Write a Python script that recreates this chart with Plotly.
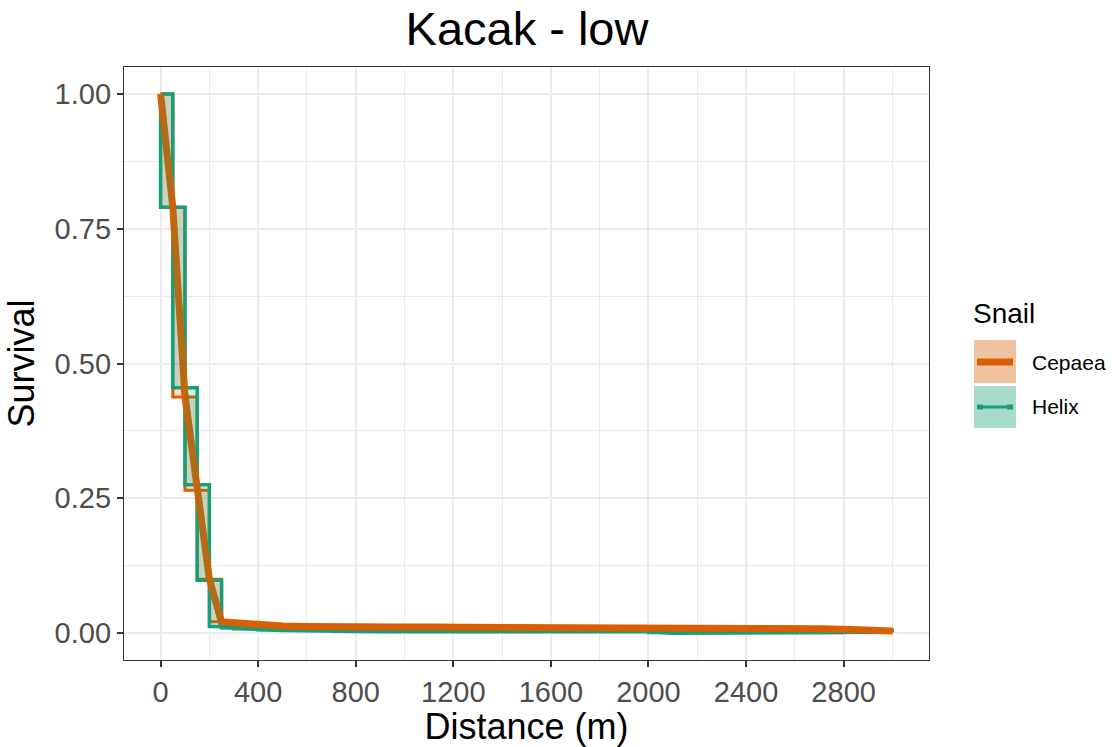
import plotly.graph_objects as go

# ---------------- data ----------------
chart_title = "Kacak - low"
distance = [0, 50, 100, 150, 200, 250, 300, 400, 500, 600, 700, 800, 900, 1000,
            1100, 1200, 1300, 1400, 1500, 1600, 1700, 1800, 1900, 2000, 2100,
            2200, 2300, 2400, 2500, 2600, 2700, 2800, 2900, 3000]
cepaea = [1.000, 0.790, 0.438, 0.265, 0.100, 0.021, 0.019, 0.015, 0.013, 0.012,
          0.011, 0.011, 0.011, 0.011, 0.011, 0.011, 0.011, 0.011, 0.011, 0.011,
          0.011, 0.011, 0.011, 0.011, 0.008, 0.008, 0.008, 0.008, 0.008, 0.008,
          0.008, 0.007, 0.006, 0.004]
helix = [1.000, 0.790, 0.455, 0.275, 0.098, 0.012, 0.010, 0.008, 0.006, 0.005,
         0.004, 0.004, 0.004, 0.004, 0.004, 0.004, 0.004, 0.004, 0.004, 0.004,
         0.004, 0.004, 0.004, 0.004, 0.001, 0.001, 0.001, 0.001, 0.001, 0.001,
         0.001, 0.002, 0.003, 0.003]
species = ["Cepaea", "Helix"]
x_ticks = [0, 400, 800, 1200, 1600, 2000, 2400, 2800]
y_ticks = [0.0, 0.25, 0.5, 0.75, 1.0]

ORANGE = "#d95f02"
GREEN = "#1b9e77"
FONT = "Liberation Sans, Arial, sans-serif"

W, H = 1112, 747
L, R, T, B = 124, 183, 67, 87
PW, PH = W - L - R, H - T - B


def px_x(px):
    return (px - L) / PW


def px_y(py):
    return (H - B - py) / PH


def band(d, s):
    xs, ys = [], []
    for i in range(len(d) - 1):
        x0, x1 = d[i], d[i + 1]
        lo, hi = s[i + 1], s[i]
        xs += [x0, x1, x1, x0, x0, None]
        ys += [hi, hi, lo, lo, hi, None]
    return xs, ys


fig = go.Figure()

cx, cy = band(distance, cepaea)
hx, hy = band(distance, helix)

# Cepaea interval band
fig.add_trace(go.Scatter(x=cx, y=cy, mode="lines", fill="toself",
                         fillcolor="rgba(217,95,2,0.2)",
                         line=dict(color=ORANGE, width=3),
                         showlegend=False, hoverinfo="skip", name="Cepaea"))
# Helix interval band outline
fig.add_trace(go.Scatter(x=hx, y=hy, mode="lines",
                         line=dict(color=GREEN, width=3.5),
                         showlegend=False, hoverinfo="skip", name="Helix"))
# Helix survival line
fig.add_trace(go.Scatter(x=distance, y=helix, mode="lines",
                         line=dict(color=GREEN, width=5),
                         showlegend=False, name="Helix"))
# Cepaea survival line
fig.add_trace(go.Scatter(x=distance, y=cepaea, mode="lines",
                         line=dict(color=ORANGE, width=7),
                         showlegend=False, name="Cepaea"))
# Helix band fill (on top)
fig.add_trace(go.Scatter(x=hx, y=hy, mode="lines", fill="toself",
                         fillcolor="rgba(27,158,119,0.2)",
                         line=dict(width=0, color="rgba(0,0,0,0)"),
                         showlegend=False, hoverinfo="skip", name="Helix"))

# ---------------- manual legend ----------------
shapes = []
annotations = []
key_boxes = [(340, 383, "rgba(217,95,2,0.38)"), (386, 428, "rgba(27,158,119,0.38)")]
for (y0, y1, col) in key_boxes:
    shapes.append(dict(type="rect", xref="paper", yref="paper",
                       x0=px_x(974), x1=px_x(1016), y0=px_y(y1), y1=px_y(y0),
                       fillcolor=col, line=dict(width=0), layer="above"))
shapes.append(dict(type="line", xref="paper", yref="paper",
                   x0=px_x(977), x1=px_x(1013), y0=px_y(362), y1=px_y(362),
                   line=dict(color=ORANGE, width=7), layer="above"))
shapes.append(dict(type="line", xref="paper", yref="paper",
                   x0=px_x(977), x1=px_x(1013), y0=px_y(407), y1=px_y(407),
                   line=dict(color=GREEN, width=3), layer="above"))
for (a, b) in [(977, 983), (1007, 1013)]:
    shapes.append(dict(type="rect", xref="paper", yref="paper",
                       x0=px_x(a), x1=px_x(b), y0=px_y(409.5), y1=px_y(404.5),
                       fillcolor=GREEN, line=dict(width=0), layer="above"))

annotations.append(dict(text="Snail", xref="paper", yref="paper",
                        x=px_x(971), y=px_y(313), xanchor="left", yanchor="middle",
                        showarrow=False, font=dict(family=FONT, size=28, color="black")))
for name, yc in zip(species, [362, 407]):
    annotations.append(dict(text=name, xref="paper", yref="paper",
                            x=px_x(1030), y=px_y(yc), xanchor="left", yanchor="middle",
                            showarrow=False, font=dict(family=FONT, size=21, color="black")))

fig.update_layout(
    width=W, height=H,
    margin=dict(l=L, r=R, t=T, b=B, autoexpand=False),
    paper_bgcolor="white", plot_bgcolor="white",
    font=dict(family=FONT, color="black"),
    title=dict(text=chart_title, x=px_x(527), xref="paper", xanchor="center",
               y=1 - 29 / H, yref="container", yanchor="middle",
               font=dict(family=FONT, size=47, color="black")),
    shapes=shapes, annotations=annotations,
    showlegend=False,
)

axis_common = dict(
    automargin=False,
    showline=True, linecolor="#333333", linewidth=1.3, mirror=True,
    ticks="outside", ticklen=6, tickwidth=1.5, tickcolor="#333333",
    showgrid=True, gridcolor="#ebebeb", gridwidth=2,
    zeroline=False,
    tickfont=dict(family=FONT, size=29, color="#4d4d4d"),
)

fig.update_xaxes(
    range=[-150, 3150], tickvals=x_ticks,
    minor=dict(tickvals=[200, 600, 1000, 1400, 1800, 2200, 2600, 3000],
               showgrid=True, gridcolor="#ebebeb", gridwidth=1.2),
    title=dict(text="Distance (m)", standoff=2,
               font=dict(family=FONT, size=36, color="black")),
    **axis_common,
)
fig.update_yaxes(
    range=[-0.05, 1.05], tickvals=y_ticks, tickformat=".2f",
    minor=dict(tickvals=[0.125, 0.375, 0.625, 0.875],
               showgrid=True, gridcolor="#ebebeb", gridwidth=1.2),
    title=dict(text="Survival", standoff=8,
               font=dict(family=FONT, size=36, color="black")),
    **axis_common,
)

fig.write_html("out.html",
               config={"displayModeBar": False},
               post_script="document.body.style.margin='0';document.body.style.padding='0';")
